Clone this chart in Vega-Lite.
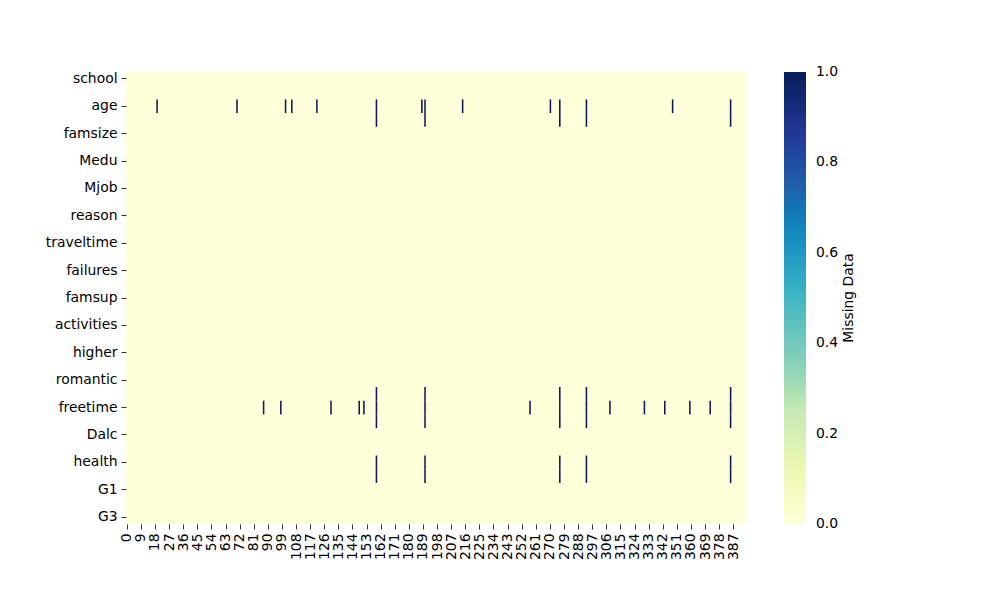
{
  "$schema": "https://vega.github.io/schema/vega-lite/v6.json",
  "width": 619,
  "height": 452,
  "autosize": "none",
  "padding": {"left": 126, "top": 72, "right": 255, "bottom": 76},
  "background": "white",
  "config": {
    "view": {"stroke": null},
    "font": "DejaVu Sans",
    "axis": {"labelFont": "DejaVu Sans", "labelFontSize": 13.9, "labelColor": "black", "tickColor": "black", "tickSize": 5, "tickWidth": 0.8, "labelPadding": 4, "domain": false, "grid": false, "title": null},
    "legend": {"labelFont": "DejaVu Sans", "labelFontSize": 13.9, "titleFont": "DejaVu Sans", "titleFontSize": 13.9, "titleFontWeight": "normal", "labelColor": "black", "titleColor": "black", "padding": 0}
  },
  "datasets": {
    "background": [{"missing": 0}],
    "cells": [
      {"variable": "age", "row": 19, "missing": 1}, {"variable": "age", "row": 70, "missing": 1}, {"variable": "age", "row": 101, "missing": 1},
      {"variable": "age", "row": 105, "missing": 1}, {"variable": "age", "row": 121, "missing": 1}, {"variable": "age", "row": 159, "missing": 1},
      {"variable": "age", "row": 188, "missing": 1}, {"variable": "age", "row": 190, "missing": 1}, {"variable": "age", "row": 214, "missing": 1},
      {"variable": "age", "row": 270, "missing": 1}, {"variable": "age", "row": 276, "missing": 1}, {"variable": "age", "row": 293, "missing": 1},
      {"variable": "age", "row": 348, "missing": 1}, {"variable": "age", "row": 385, "missing": 1},
      {"variable": "address", "row": 159, "missing": 1}, {"variable": "address", "row": 190, "missing": 1}, {"variable": "address", "row": 276, "missing": 1},
      {"variable": "address", "row": 293, "missing": 1}, {"variable": "address", "row": 385, "missing": 1},
      {"variable": "famrel", "row": 159, "missing": 1}, {"variable": "famrel", "row": 190, "missing": 1}, {"variable": "famrel", "row": 276, "missing": 1},
      {"variable": "famrel", "row": 293, "missing": 1}, {"variable": "famrel", "row": 385, "missing": 1},
      {"variable": "freetime", "row": 87, "missing": 1}, {"variable": "freetime", "row": 98, "missing": 1}, {"variable": "freetime", "row": 130, "missing": 1},
      {"variable": "freetime", "row": 148, "missing": 1}, {"variable": "freetime", "row": 151, "missing": 1}, {"variable": "freetime", "row": 159, "missing": 1},
      {"variable": "freetime", "row": 190, "missing": 1}, {"variable": "freetime", "row": 257, "missing": 1}, {"variable": "freetime", "row": 276, "missing": 1},
      {"variable": "freetime", "row": 293, "missing": 1}, {"variable": "freetime", "row": 308, "missing": 1}, {"variable": "freetime", "row": 330, "missing": 1},
      {"variable": "freetime", "row": 343, "missing": 1}, {"variable": "freetime", "row": 359, "missing": 1}, {"variable": "freetime", "row": 372, "missing": 1},
      {"variable": "freetime", "row": 385, "missing": 1},
      {"variable": "goout", "row": 159, "missing": 1}, {"variable": "goout", "row": 190, "missing": 1}, {"variable": "goout", "row": 276, "missing": 1},
      {"variable": "goout", "row": 293, "missing": 1}, {"variable": "goout", "row": 385, "missing": 1},
      {"variable": "health", "row": 159, "missing": 1}, {"variable": "health", "row": 190, "missing": 1}, {"variable": "health", "row": 276, "missing": 1},
      {"variable": "health", "row": 293, "missing": 1}, {"variable": "health", "row": 385, "missing": 1},
      {"variable": "absences", "row": 159, "missing": 1}, {"variable": "absences", "row": 190, "missing": 1}, {"variable": "absences", "row": 276, "missing": 1},
      {"variable": "absences", "row": 293, "missing": 1}, {"variable": "absences", "row": 385, "missing": 1}
    ]
  },
  "layer": [
    {
      "data": {"name": "background"},
      "mark": {"type": "rect", "strokeWidth": 0},
      "encoding": {
        "x": {"datum": 0, "type": "quantitative"},
        "x2": {"datum": 395},
        "color": {"field": "missing", "type": "quantitative"}
      }
    },
    {
      "data": {"name": "cells"},
      "mark": {"type": "rect", "strokeWidth": 0},
      "encoding": {
        "y": {"field": "variable", "type": "nominal", "sort": null,
              "scale": {"domain": ["school","sex","age","address","famsize","Pstatus","Medu","Fedu","Mjob","Fjob","reason","guardian","traveltime","studytime","failures","schoolsup","famsup","paid","activities","nursery","higher","internet","romantic","famrel","freetime","goout","Dalc","Walc","health","absences","G1","G2","G3"], "paddingInner": 0, "paddingOuter": 0},
              "axis": {"values": ["school","age","famsize","Medu","Mjob","reason","traveltime","failures","famsup","activities","higher","romantic","freetime","Dalc","health","G1","G3"], "labelOverlap": false}},
        "x": {"field": "row", "type": "quantitative", "bin": {"step": 1, "extent": [0, 395]},
              "scale": {"domain": [0, 395], "nice": false, "zero": false},
              "axis": {"values": [0.5,9.5,18.5,27.5,36.5,45.5,54.5,63.5,72.5,81.5,90.5,99.5,108.5,117.5,126.5,135.5,144.5,153.5,162.5,171.5,180.5,189.5,198.5,207.5,216.5,225.5,234.5,243.5,252.5,261.5,270.5,279.5,288.5,297.5,306.5,315.5,324.5,333.5,342.5,351.5,360.5,369.5,378.5,387.5],
                       "labelExpr": "floor(datum.value)", "labelAngle": 270, "labelAlign": "right", "labelBaseline": "middle", "labelOverlap": false, "labelFlush": false, "labelBound": false, "title": null}},
        "color": {"field": "missing", "type": "quantitative",
                  "scale": {"type": "linear", "domain": [0, 0.125, 0.25, 0.375, 0.5, 0.625, 0.75, 0.875, 1],
                            "range": ["#ffffd9", "#edf8b1", "#c7e9b4", "#7fcdbb", "#41b6c4", "#1d91c0", "#225ea8", "#253494", "#081d58"]},
                  "legend": {"title": "Missing Data", "orient": "right", "offset": 39, "gradientLength": 452, "gradientThickness": 22, "gradientStrokeWidth": 0,
                             "values": [0, 0.2, 0.4, 0.6, 0.8, 1.0], "format": ".1f", "labelOffset": 10, "labelOverlap": false,
                             "titleOrient": "right", "titleAnchor": "middle", "titlePadding": 4,
                             "encode": {
                               "labels": {"update": {"baseline": {"value": "middle"}}},
                               "title": {"update": {"angle": {"value": 270}, "baseline": {"value": "top"}}}
                             }}}
      }
    }
  ]
}
